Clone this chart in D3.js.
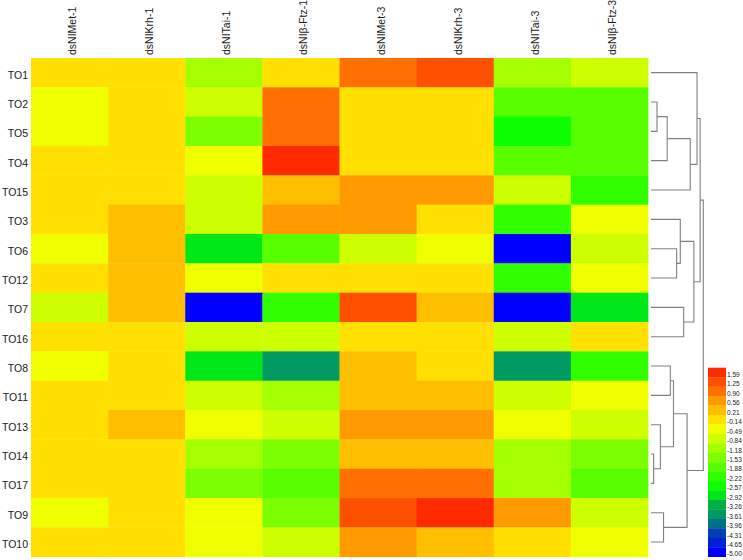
<!DOCTYPE html>
<html>
<head>
<meta charset="utf-8">
<script src="https://cdnjs.cloudflare.com/ajax/libs/d3/7.8.5/d3.min.js"></script>
<style>
  html, body { margin: 0; padding: 0; background: #fff; }
  svg { display: block; }
  text { font-family: "Liberation Sans", Arial, sans-serif; fill: #1a1a1a; }
</style>
</head>
<body>
<svg id="chart"></svg>
<script>
var samples = ["dsNIMet-1", "dsNIKrh-1", "dsNITai-1", "dsNI\u03b2-Ftz-1", "dsNIMet-3", "dsNIKrh-3", "dsNITai-3", "dsNI\u03b2-Ftz-3"];
var genes = ["TO1", "TO2", "TO5", "TO4", "TO15", "TO3", "TO6", "TO12", "TO7", "TO16", "TO8", "TO11", "TO13", "TO14", "TO17", "TO9", "TO10"];

var TO1  = [-0.14, -0.14, -1.18, -0.14, 0.90, 1.25, -1.18, -0.84];
var TO2  = [-0.49, -0.14, -0.84, 0.90, -0.14, -0.14, -1.88, -1.88];
var TO5  = [-0.49, -0.14, -1.53, 0.90, -0.14, -0.14, -2.57, -1.88];
var TO4  = [-0.14, -0.14, -0.49, 1.59, -0.14, -0.14, -1.88, -1.88];
var TO15 = [-0.14, -0.14, -0.84, 0.21, 0.56, 0.56, -0.84, -2.22];
var TO3  = [-0.14, 0.21, -0.84, 0.56, 0.56, -0.14, -2.22, -0.49];
var TO6  = [-0.49, 0.21, -2.92, -1.88, -0.84, -0.49, -5.00, -0.84];
var TO12 = [-0.14, 0.21, -0.49, -0.14, -0.14, -0.14, -2.22, -0.49];
var TO7  = [-0.84, 0.21, -5.00, -2.22, 1.25, 0.21, -5.00, -2.92];
var TO16 = [-0.14, -0.14, -0.84, -0.84, -0.14, -0.14, -0.84, -0.14];
var TO8  = [-0.49, -0.14, -2.92, -3.61, 0.21, -0.14, -3.61, -2.22];
var TO11 = [-0.14, -0.14, -0.84, -1.18, 0.21, 0.21, -0.84, -0.49];
var TO13 = [-0.14, 0.21, -0.49, -0.84, 0.56, 0.56, -0.49, -0.84];
var TO14 = [-0.14, -0.14, -1.18, -1.53, 0.21, 0.21, -1.18, -1.53];
var TO17 = [-0.14, -0.14, -1.53, -1.88, 0.90, 0.90, -1.18, -1.88];
var TO9  = [-0.49, -0.14, -0.49, -1.53, 1.25, 1.59, 0.56, -0.84];
var TO10 = [-0.14, -0.14, -0.49, -0.84, 0.56, 0.21, -0.14, -0.49];
var rows = [TO1, TO2, TO5, TO4, TO15, TO3, TO6, TO12, TO7, TO16, TO8, TO11, TO13, TO14, TO17, TO9, TO10];

// legend, top to bottom
var legendLabels = ["1.59", "1.25", "0.90", "0.56", "0.21", "-0.14", "-0.49", "-0.84", "-1.18", "-1.53", "-1.88", "-2.22", "-2.57", "-2.92", "-3.26", "-3.61", "-3.96", "-4.31", "-4.65", "-5.00"];
var legendColors = ["#ff2a00", "#ff5000", "#ff7000", "#ff9b00", "#ffbf00", "#ffe000", "#f0ff00", "#cdff00", "#a4ff00", "#7cff00", "#58ff00", "#30ff00", "#0cff00", "#00e818", "#00b040", "#009a62", "#007088", "#0040b0", "#0020d8", "#0000ff"];

// dendrogram merges: [height, left, right], leaves are gene names
var clusterA = [0.88, "TO1", [0.75, [0.31, [0.115, "TO2", "TO5"], "TO4"], "TO15"]];
var clusterB = [0.82, [0.56, "TO3", [0.49, "TO6", "TO12"]], [0.625, "TO7", "TO16"]];
var clusterC = [0.69, [0.43, [0.37, "TO8", "TO11"], [0.18, "TO13", [0.05, "TO14", "TO17"]]], [0.24, "TO9", "TO10"]];
var tree = [1.0, [0.94, clusterA, clusterB], clusterC];

var W = 743, H = 560;
var svg = d3.select("#chart").attr("width", W).attr("height", H);

var x = d3.scaleBand().domain(samples).range([31, 648]);
var y = d3.scaleBand().domain(genes).range([58, 556.7]);

var thresholds = legendLabels.map(Number).slice(0, -1).reverse();
var color = d3.scaleThreshold().domain(thresholds).range(legendColors.slice().reverse());

// heat cells
svg.append("g").selectAll("g")
  .data(rows)
  .enter().append("g")
  .each(function(row, r) {
    d3.select(this).selectAll("rect")
      .data(row)
      .enter().append("rect")
      .attr("x", function(d, i) { return x(samples[i]); })
      .attr("y", y(genes[r]))
      .attr("width", x.bandwidth() + 0.4)
      .attr("height", y.bandwidth() + 0.4)
      .attr("fill", function(d) { return color(d); });
  });

// row labels
var yAxis = d3.axisLeft(y).tickSize(0).tickPadding(0);
svg.append("g")
  .attr("transform", "translate(28,2.5)")
  .call(yAxis)
  .call(function(g) { g.select(".domain").remove(); })
  .selectAll("text")
  .style("font-family", "'Liberation Sans', Arial, sans-serif")
  .style("font-size", "10.5px");

// column labels
svg.append("g")
  .selectAll("text")
  .data(samples)
  .enter().append("text")
  .attr("transform", function(d) {
    return "translate(" + (x(d) + x.bandwidth() / 2 + 6.5) + ",55) rotate(-90)";
  })
  .style("font-size", "10.5px")
  .text(function(d) { return d; });

// dendrogram
var dx = d3.scaleLinear().domain([0, 1]).range([651, 703.3]);
var dend = svg.append("g").attr("fill", "none").attr("stroke", "#808080").attr("stroke-width", 1.1);

function drawNode(node) {
  if (typeof node === "string") return { h: 0, y: y(node) + y.bandwidth() / 2 };
  var a = drawNode(node[1]), b = drawNode(node[2]);
  dend.append("path")
    .attr("d", "M" + dx(a.h) + "," + a.y + "H" + dx(node[0]) + "V" + b.y + "H" + dx(b.h));
  return { h: node[0], y: (a.y + b.y) / 2 };
}
drawNode(tree);

// colour key
var ky = d3.scaleBand().domain(legendLabels).range([367.7, 556.7]);
svg.append("g").selectAll("rect")
  .data(legendLabels)
  .enter().append("rect")
  .attr("x", 708)
  .attr("width", 18)
  .attr("y", function(d) { return ky(d); })
  .attr("height", ky.bandwidth() + 0.3)
  .attr("fill", function(d, i) { return legendColors[i]; });

svg.append("g").selectAll("text")
  .data(legendLabels)
  .enter().append("text")
  .attr("x", 727)
  .attr("y", function(d) { return ky(d) + ky.bandwidth() / 2 + 4.5; })
  .style("font-size", "6.5px")
  .text(function(d) { return d; });
</script>
</body>
</html>
